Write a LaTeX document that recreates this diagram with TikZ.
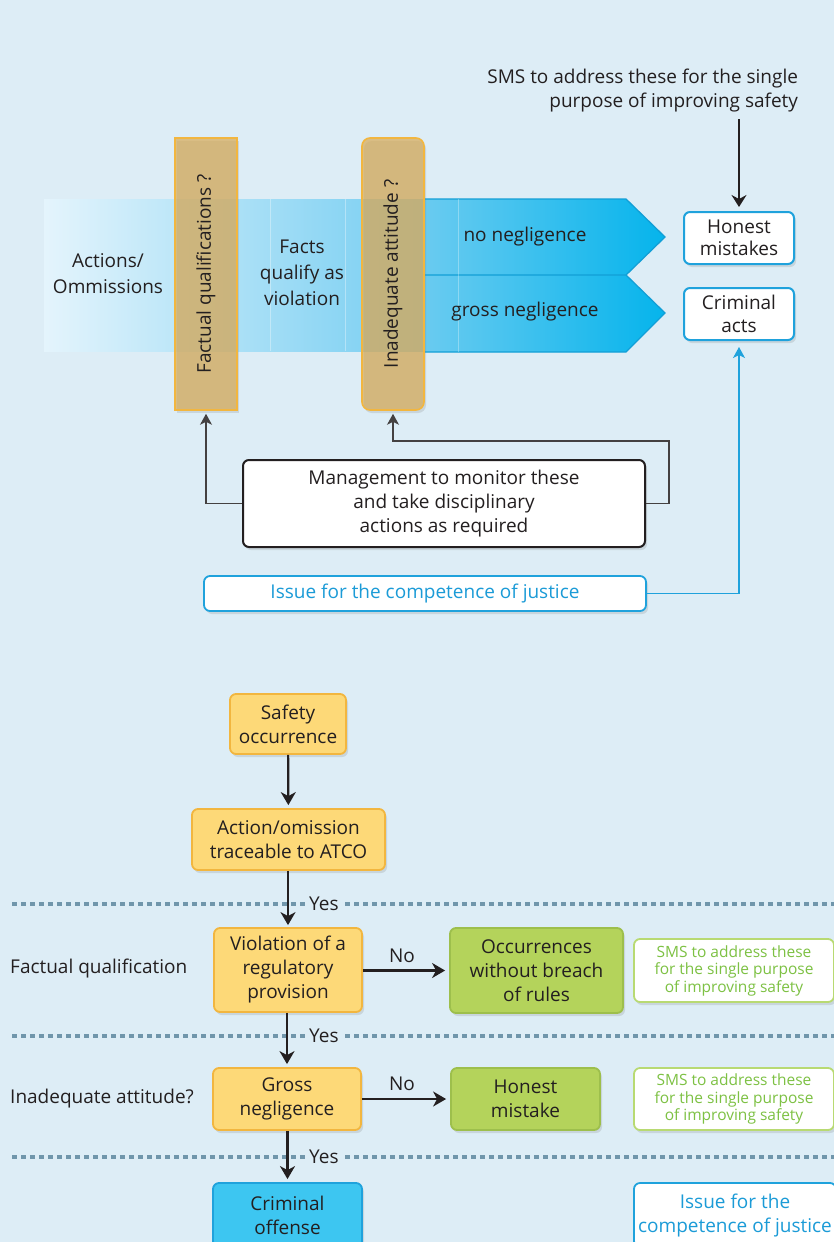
\documentclass[tikz,border=0pt]{standalone}
\usepackage{fontspec}
\setmainfont{Open Sans}
\usetikzlibrary{shadows,arrows.meta}

\definecolor{bg}{HTML}{DDEDF6}
\definecolor{txt}{HTML}{231F20}
\definecolor{yfill}{HTML}{FDD978}
\definecolor{yline}{HTML}{F2B63F}
\definecolor{gfill}{HTML}{B4D35B}
\definecolor{gline}{HTML}{9DBF4C}
\definecolor{gtext}{HTML}{7DC143}
\definecolor{glight}{HTML}{B8DA72}
\definecolor{bline}{HTML}{1FA2DC}
\definecolor{btext}{HTML}{1B9BD7}
\definecolor{cfill}{HTML}{3DC6F1}
\definecolor{bar}{HTML}{D8AD5E}
\definecolor{barline}{HTML}{F2B63F}
\definecolor{dots}{HTML}{7096AB}
\definecolor{bandL}{HTML}{E4F4FC}
\definecolor{bandR}{HTML}{74CDF1}
\definecolor{arrL}{HTML}{6ACBF0}
\definecolor{arrR}{HTML}{05B4EC}
\definecolor{arrline}{HTML}{129FD6}

\tikzset{
  shade box/.style={drop shadow={shadow xshift=2pt, shadow yshift=-3pt, opacity=.22}},
  box/.style={rounded corners=6pt, line width=1.8pt, align=center, inner sep=0pt,
    font=\fontsize{19}{24}\selectfont, text=txt, shade box},
  ybox/.style={box, fill=yfill, draw=yline},
  gbox/.style={box, fill=gfill, draw=gline},
  smsbox/.style={box, fill=white, draw=glight, text=gtext, font=\fontsize{15.5}{17.5}\selectfont},
  issuebox/.style={box, fill=white, draw=bline, text=btext},
  wbox/.style={box, fill=white, draw=bline, line width=2pt, font=\fontsize{19}{22.5}\selectfont},
  barbox/.style={fill=bar, fill opacity=.75, draw=barline, line width=1.6pt,
    minimum width=62pt, minimum height=272pt, inner sep=0pt, text opacity=1,
    font=\fontsize{19}{22}\selectfont, text=txt},
  lbl/.style={font=\fontsize{19}{26}\selectfont, text=txt, align=center, inner sep=0pt},
  arr/.style={-{Stealth[length=13pt,width=15pt,inset=4pt]}, line width=2.2pt, draw=txt},
  thinarr/.style={-{Stealth[length=11pt,width=12pt,inset=3pt]}, line width=1.3pt, draw=txt!85},
  dotline/.style={dots, line width=4pt, dash pattern=on 4.5pt off 4.5pt},
  yes/.style={lbl, fill=bg, inner xsep=3pt, anchor=west}
}

\begin{document}
\begin{tikzpicture}[x=1pt, y=-1pt]
\useasboundingbox (0,0) rectangle (834,1242);
\fill[bg] (0,0) rectangle (834,1242);

% ---------------- upper chart ----------------
% blue band of actions
\shade[left color=bandL, right color=bandR] (44,199) rectangle (424,351);
\draw[white, opacity=.35, line width=.8pt] (270,199) -- (270,351) (345,199) -- (345,351);

% outcome arrows
\shade[left color=arrL, right color=arrR] (424,199) -- (626,199) -- (665,237) -- (626,275) -- (424,275) -- cycle;
\shade[left color=arrL, right color=arrR] (424,275) -- (626,275) -- (665,313) -- (626,352) -- (424,352) -- cycle;
\draw[arrline, line width=1.3pt, line join=miter] (424,199) -- (626,199) -- (665,237) -- (626,275) -- (424,275);
\draw[arrline, line width=1.3pt, line join=miter] (626,275) -- (665,313) -- (626,352) -- (424,352);
\draw[white, opacity=.3, line width=.8pt] (458,199) -- (458,352);

\node[lbl] (actions) at (108,274) {Actions/\\Ommissions};
\node[lbl] (facts) at (302,273) {Facts\\qualify as\\violation};
\node[lbl] (noneg) at (525,237) {no negligence};
\node[lbl] (grossneg) at (525,312) {gross negligence};

% question bars
\node[barbox, shade box] (fact) at (206,274) {\rotatebox{90}{Factual qualifications ?}};
\node[barbox, shade box, rounded corners=8pt] (inad) at (393,274) {\rotatebox{90}{Inadequate attitude ?}};

% outcomes
\node[wbox, minimum width=110pt, minimum height=52pt] (hm) at (739,238) {Honest\\mistakes};
\node[wbox, minimum width=110pt, minimum height=52pt] (ca) at (739,314) {Criminal\\acts};

\node[lbl, align=right, anchor=north east, outer sep=7pt, font=\fontsize{19}{24}\selectfont] (smstop) at (805,62)
  {SMS to address these for the single\\purpose of improving safety};
\draw[-{Stealth[length=12pt,width=15pt,inset=4pt]}, line width=1.7pt, draw=txt, shorten >=4pt]
  (smstop.south -| hm.north) -- (hm.north);

\node[box, fill=white, draw=txt, line width=2pt, minimum width=402pt, minimum height=87pt] (mgmt)
  at (444,503.5) {Management to monitor these\\and take disciplinary\\actions as required};
\node[issuebox, minimum width=442pt, minimum height=35pt] (issue) at (425,593.5)
  {Issue for the competence of justice};

\coordinate (r1) at (669,503.5);
\coordinate (r2) at (669,441);
\draw[thinarr, shorten >=3pt] (mgmt.west) -| (fact.south);
\draw[thinarr, shorten >=3pt] (mgmt.east) -- (r1) -- (r2) -| (inad.south);
\draw[-{Stealth[length=11pt,width=12pt,inset=3pt]}, line width=1.3pt, draw=bline, shorten >=6pt]
  (issue.east) -| (ca.south);

% ---------------- lower chart ----------------
\draw[dotline] (12,904) -- (834,904);
\draw[dotline] (12,1036) -- (834,1036);
\draw[dotline] (12,1157) -- (834,1157);

\node[ybox, minimum width=116pt, minimum height=60pt] (safety) at (288,724) {Safety\\occurrence};
\node[ybox, minimum width=193pt, minimum height=61pt] (action) at (288.5,839.5) {Action/omission\\traceable to ATCO};
\node[ybox, minimum width=148pt, minimum height=84pt] (viol) at (288,970) {Violation of a\\regulatory\\provision};
\node[gbox, minimum width=173pt, minimum height=85pt] (occ) at (536.5,970.5) {Occurrences\\without breach\\of rules};
\node[smsbox, minimum width=200pt, minimum height=63pt] (sms1) at (734,970.5)
  {SMS to address these\\for the single purpose\\of improving safety};
\node[ybox, minimum width=148pt, minimum height=62pt] (gross) at (287,1099) {Gross\\negligence};
\node[gbox, minimum width=149pt, minimum height=62pt] (honest) at (525.5,1099) {Honest\\mistake};
\node[smsbox, minimum width=200pt, minimum height=62pt] (sms2) at (734,1099)
  {SMS to address these\\for the single purpose\\of improving safety};
\node[box, fill=cfill, draw=bline, minimum width=149pt, minimum height=64pt] (crim) at (287.5,1215)
  {Criminal\\offense};
\node[issuebox, minimum width=202pt, minimum height=64pt] (issue2) at (735,1215)
  {Issue for the\\competence of justice};

\node[lbl, anchor=west] (fq) at (10,969) {Factual qualification};
\node[lbl, anchor=west] (ia) at (10,1099) {Inadequate attitude?};

\draw[arr, shorten >=3pt] (safety) -- (action);
\draw[arr, shorten >=2pt] (action.south -| viol.north) -- (viol.north);
\draw[arr, shorten >=3pt] (viol.south -| gross.north) -- (gross.north);
\draw[arr, shorten >=3pt] (gross.south -| crim.north) -- (crim.north);
\draw[arr, shorten >=4pt] (viol.east |- occ.west) -- (occ.west);
\draw[arr, shorten >=4pt] (gross) -- (honest);

\node[yes] (yes1) at (306,904) {Yes};
\node[yes] (yes2) at (306,1036) {Yes};
\node[yes] (yes3) at (306,1157) {Yes};
\node[lbl] (no1) at (402,956) {No};
\node[lbl] (no2) at (402,1084) {No};
\end{tikzpicture}
\end{document}
